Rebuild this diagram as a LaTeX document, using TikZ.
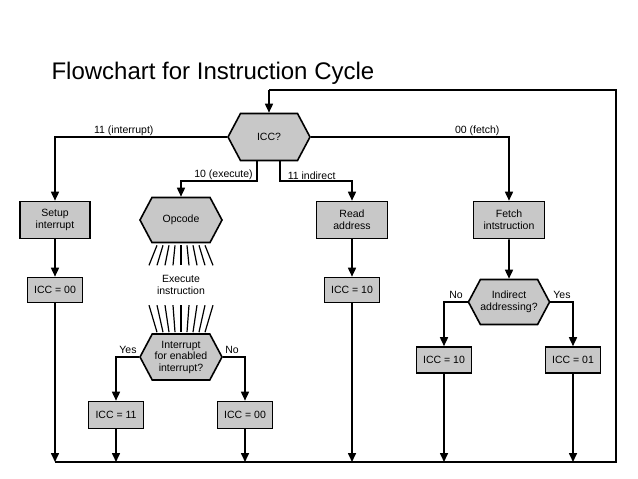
\documentclass[tikz,border=0pt]{standalone}
\usepackage{fontspec}
\setmainfont{Liberation Sans}
\usetikzlibrary{shapes.symbols,arrows.meta,calc}
\begin{document}
\begin{tikzpicture}[x=1pt,y=-1pt,
  box/.style={draw,line width=1.6pt,fill=boxgray,inner sep=0pt,align=center,font=\fontsize{10.5}{12}\selectfont},
  hex/.style={box,shape=signal,signal to=east and west,signal pointer angle=124},
  ln/.style={line width=1.6pt},
  arr/.style={ln,-{Triangle[length=9pt,width=8pt]}},
  lab/.style={font=\fontsize{10.5}{12}\selectfont,inner sep=1pt}]
\definecolor{boxgray}{RGB}{200,200,200}
\useasboundingbox (0,0) rectangle (638,479);
\node[anchor=west,font=\fontsize{24}{28}\selectfont] (title) at (48,73) {Flowchart for Instruction Cycle};
\node[hex,minimum width=82pt,minimum height=47pt] (icc) at (269,137) {ICC?};
\node[box,minimum width=70pt,minimum height=37pt] (setup) at (55,220) {Setup\\interrupt};
\node[box,minimum width=55pt,minimum height=25pt] (c1) at (55,290) {ICC = 00};
\node[hex,minimum width=82pt,minimum height=45pt] (op) at (181,220) {Opcode};
\node[lab,align=center] (exe) at (181,285) {Execute\\instruction};
\node[hex,minimum width=82pt,minimum height=46pt,font=\fontsize{10.5}{11.5}\selectfont] (intr) at (181,357) {Interrupt\\for enabled\\interrupt?};
\node[box,minimum width=55pt,minimum height=27pt] (c11) at (116,415) {ICC = 11};
\node[box,minimum width=55pt,minimum height=27pt] (c00) at (245,415) {ICC = 00};
\node[box,minimum width=71pt,minimum height=37pt] (read) at (352,220) {Read\\address};
\node[box,minimum width=55pt,minimum height=25pt] (c10) at (352,290) {ICC = 10};
\node[box,minimum width=71pt,minimum height=37pt] (fetch) at (509,220) {Fetch\\intstruction};
\node[hex,minimum width=81pt,minimum height=45pt] (ind) at (509,302) {Indirect\\addressing?};
\node[box,minimum width=55pt,minimum height=26pt] (c10b) at (444,360) {ICC = 10};
\node[box,minimum width=55pt,minimum height=26pt] (c01) at (573,360) {ICC = 01};
\coordinate (bl) at (55,462);
\coordinate (br) at (616,462);
% connectors
\draw[arr] (icc.west) -| node[lab,pos=0.3,above]{11 (interrupt)} (setup.north);
\draw[arr] (setup) -- (c1);
\draw[arr] (c1) -- (bl);
\draw[arr] ([xshift=-12pt]icc.south) |- (181,181) node[lab,pos=0.72,above]{10 (execute)} -- (op.north);
\draw[arr] ([xshift=11pt]icc.south) |- (352,181) node[lab,pos=0.72,above]{11 indirect} -- (read.north);
\draw[arr] (icc.east) -| node[lab,pos=0.42,above]{00 (fetch)} (fetch.north);
\draw[arr] (read) -- (c10);
\draw[arr] (c10) -- (c10|-bl);
\draw[arr] (fetch) -- (ind);
\draw[arr] (ind.west) -| (c10b.north);
\draw[arr] (ind.east) -| (c01.north);
\node[lab,anchor=south] at (456,300) {No};
\node[lab,anchor=south] at (562,300) {Yes};
\draw[arr] (c10b) -- (c10b|-bl);
\draw[arr] (c01) -- (c01|-bl);
\draw[arr] (intr.west) -| (c11.north);
\draw[arr] (intr.east) -| (c00.north);
\node[lab,anchor=south] at (128,355) {Yes};
\node[lab,anchor=south] at (232,355) {No};
\draw[arr] (c11) -- (c11|-bl);
\draw[arr] (c00) -- (c00|-bl);
\draw[ln] (bl) -- (br) |- (269,90) coordinate (tl);
\draw[arr] (tl) -- (icc.north);
% rays
\foreach \d in {-32,-24,-16,-8,0,8,16,24,32}{
  \draw[line width=1.2pt] ($(op.south)+(0.75*\d,2)$) -- ($(op.south)+(\d,22)$);
  \draw[line width=1.2pt] ($(intr.north)+(\d,-28)$) -- ($(intr.north)+(0.75*\d,-1)$);
}
\end{tikzpicture}
\end{document}
